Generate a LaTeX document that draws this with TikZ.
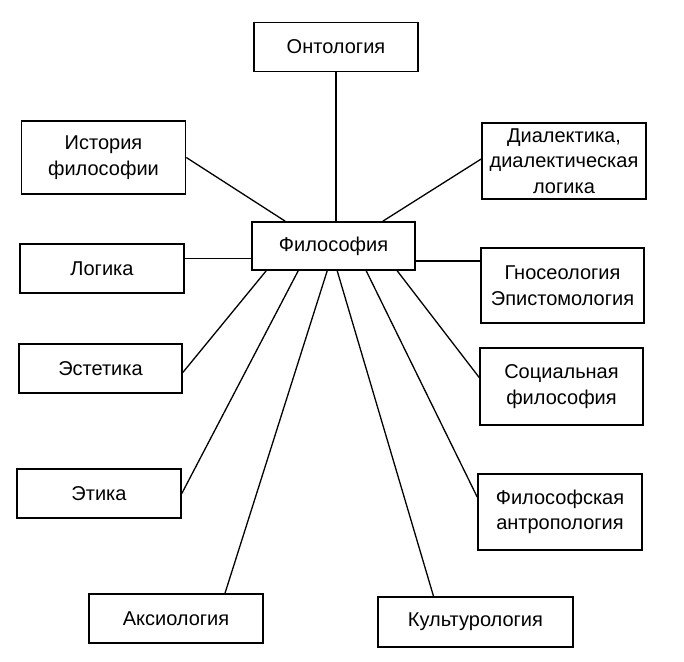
\documentclass[tikz,border=0pt]{standalone}
\usepackage{fontspec}
\setmainfont{Liberation Sans}
\begin{document}
\begin{tikzpicture}[x=1pt,y=-1pt,
  box/.style={draw, line width=1.6pt, align=center, inner sep=0pt,
    minimum width=164pt, minimum height=49pt,
    font=\fontsize{20}{25.5}\selectfont},
  tall/.style={minimum height=76pt},
  link/.style={line width=1.3pt}]
\useasboundingbox (0,0) rectangle (684,661);
\node[box] (ont) at (336,47) {Онтология};
\node[box,tall,minimum height=73pt] (hist) at (103.5,157.5) {История\\философии};
\node[box,tall] (dial) at (564,161) {Диалектика,\\диалектическая\\логика};
\node[box,minimum width=163pt,minimum height=48pt] (phil) at (333.5,246) {Философия};
\node[box] (log) at (102,268.5) {Логика};
\node[box,tall,minimum width=163pt,minimum height=75pt] (gno) at (562.5,285.5) {Гносеология\\Эпистомология};
\node[box,minimum width=163pt] (est) at (100.5,368.5) {Эстетика};
\node[box,tall,minimum width=163pt,minimum height=77pt] (soc) at (561.5,386.5) {Социальная\\философия};
\node[box] (eth) at (99,493.5) {Этика};
\node[box,tall] (anth) at (560,512) {Философская\\антропология};
\node[box,minimum width=174pt] (aks) at (176,618.5) {Аксиология};
\node[box,minimum width=195pt,minimum height=50pt] (kult) at (475.5,622) {Культурология};
% connectors
\draw[link] (ont.south) -- (ont.south |- phil.north);
\draw[link] (hist.east) -- ([xshift=34pt]phil.north west);
\draw[link] ([yshift=2pt]dial.west) -- ([xshift=-33pt]phil.north east);
\draw[link] ([yshift=10pt]log.east) -- ([yshift=10pt]log.east -| phil.west);
\draw[link] ([yshift=-15pt]phil.east) -- ([yshift=-15pt]phil.east -| gno.west);
\draw[link] ([xshift=15pt]phil.south west) -- ([yshift=-4pt]est.east);
\draw[link] ([xshift=47pt]phil.south west) -- (eth.east);
\draw[link] ([xshift=76pt]phil.south west) -- ([xshift=49pt]aks.north);
\draw[link] ([xshift=86pt]phil.south west) -- ([xshift=-42pt]kult.north);
\draw[link] ([xshift=115pt]phil.south west) -- ([yshift=15pt]anth.west);
\draw[link] ([xshift=146pt]phil.south west) -- ([yshift=9pt]soc.west);
\end{tikzpicture}
\end{document}
